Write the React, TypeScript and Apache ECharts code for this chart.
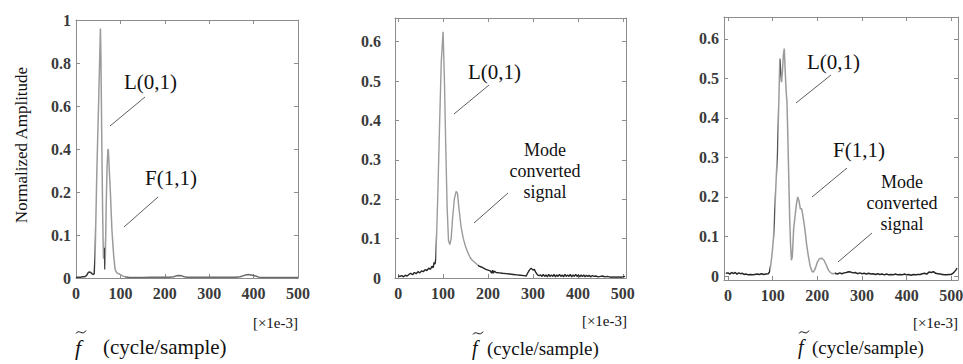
import React, { useEffect, useRef } from "react";
import * as echarts from "echarts";

// ---------- data ----------
const xTicks = [0, 100, 200, 300, 400, 500];
const p1YTickValues = [0, 0.1, 0.2, 0.4, 0.6, 0.8, 1];
const p1YTickLabels = ["0", "0.1", "0.2", "0.4", "0.6", "0.8", "1"];
const p23YTicks = [0, 0.1, 0.2, 0.3, 0.4, 0.5, 0.6];

// [frequency (x1e-3 cycle/sample), normalized amplitude]
const p1Spectrum: [number, number][] = [
  [0, 0.002], [5, 0.002], [10, 0.002], [15, 0.003], [20, 0.003], [24, 0.006], [27, 0.012], [30, 0.014],
  [33, 0.013], [36, 0.01], [39, 0.008], [41, 0.01], [43, 0.05], [45, 0.15], [47, 0.3], [49, 0.46],
  [51, 0.62], [53, 0.79], [55, 0.96], [56, 0.85], [57, 0.66], [58, 0.45], [59, 0.28], [60, 0.15],
  [61, 0.09], [62, 0.045], [63, 0.07], [64, 0.065], [65, 0.02], [66, 0.05], [67, 0.1], [68, 0.17],
  [70, 0.32], [72, 0.4], [73, 0.39], [75, 0.3], [77, 0.22], [79, 0.16], [81, 0.11], [83, 0.08],
  [85, 0.05], [88, 0.02], [92, 0.012], [96, 0.01], [100, 0.008], [105, 0.005], [110, 0.003], [120, 0.001],
  [130, 0.001], [150, 0.001], [170, 0.002], [190, 0.002], [210, 0.002], [220, 0.003], [226, 0.005], [232, 0.006],
  [238, 0.005], [244, 0.003], [250, 0.002], [270, 0.002], [300, 0.002], [330, 0.002], [360, 0.002], [370, 0.003],
  [376, 0.005], [382, 0.007], [388, 0.008], [394, 0.007], [400, 0.006], [406, 0.004], [412, 0.002], [420, 0.001],
  [450, 0.001], [480, 0.001], [500, 0.001],
];

const p2Spectrum: [number, number][] = [
  [0, 0.005], [4, 0.004], [8, 0.006], [12, 0.003], [16, 0.007], [20, 0.005], [24, 0.009], [28, 0.012],
  [32, 0.008], [36, 0.014], [40, 0.011], [44, 0.016], [48, 0.013], [52, 0.018], [56, 0.016], [60, 0.021],
  [64, 0.019], [68, 0.025], [72, 0.022], [75, 0.03], [78, 0.026], [80, 0.04], [82, 0.035], [84, 0.05],
  [88, 0.2], [92, 0.38], [96, 0.55], [100, 0.625], [103, 0.5], [106, 0.33], [109, 0.18], [112, 0.095],
  [115, 0.085], [118, 0.1], [121, 0.15], [125, 0.2], [129, 0.22], [132, 0.215], [135, 0.18], [140, 0.13],
  [145, 0.1], [150, 0.08], [155, 0.065], [160, 0.052], [165, 0.045], [170, 0.04], [175, 0.035], [180, 0.03],
  [185, 0.028], [190, 0.025], [195, 0.022], [200, 0.02], [205, 0.018], [208, 0.012], [210, 0.02], [212, 0.012],
  [214, 0.018], [218, 0.014], [225, 0.013], [232, 0.012], [240, 0.011], [248, 0.01], [256, 0.009], [264, 0.008],
  [272, 0.007], [280, 0.006], [285, 0.005], [288, 0.012], [292, 0.02], [296, 0.025], [300, 0.02], [303, 0.022],
  [306, 0.015], [310, 0.008], [314, 0.006], [317, 0.008], [320, 0.004], [323, 0.009], [326, 0.004], [329, 0.008],
  [332, 0.003], [335, 0.009], [338, 0.004], [341, 0.008], [344, 0.004], [347, 0.009], [350, 0.003], [353, 0.008],
  [356, 0.004], [359, 0.009], [362, 0.004], [365, 0.008], [368, 0.003], [371, 0.009], [374, 0.004], [377, 0.008],
  [380, 0.004], [383, 0.009], [386, 0.003], [389, 0.008], [392, 0.004], [395, 0.009], [398, 0.004], [401, 0.008],
  [404, 0.003], [407, 0.008], [410, 0.004], [413, 0.008], [416, 0.003], [419, 0.007], [422, 0.004], [425, 0.007],
  [428, 0.003], [432, 0.006], [436, 0.004], [440, 0.005], [445, 0.003], [450, 0.004], [455, 0.005], [460, 0.003],
  [465, 0.004], [470, 0.003], [475, 0.002], [480, 0.003], [485, 0.002], [490, 0.003], [495, 0.002], [500, 0.003],
  [505, 0.004],
];

const p3Spectrum: [number, number][] = [
  [-5, 0.007], [0, 0.008], [4, 0.005], [8, 0.009], [12, 0.006], [16, 0.009], [20, 0.005], [24, 0.008],
  [28, 0.006], [32, 0.007], [36, 0.004], [40, 0.005], [45, 0.003], [50, 0.004], [55, 0.003], [60, 0.004],
  [65, 0.005], [70, 0.004], [75, 0.006], [80, 0.004], [85, 0.005], [90, 0.006], [93, 0.01], [96, 0.03],
  [99, 0.06], [102, 0.1], [105, 0.17], [108, 0.25], [111, 0.32], [114, 0.45], [116, 0.55], [118, 0.52],
  [120, 0.49], [122, 0.52], [124, 0.56], [126, 0.575], [128, 0.52], [130, 0.47], [132, 0.44], [134, 0.35],
  [136, 0.25], [138, 0.15], [140, 0.08], [142, 0.04], [144, 0.05], [147, 0.12], [150, 0.15], [153, 0.18],
  [156, 0.2], [159, 0.19], [162, 0.17], [165, 0.17], [168, 0.15], [172, 0.12], [176, 0.08], [180, 0.05],
  [184, 0.025], [188, 0.012], [191, 0.01], [195, 0.018], [200, 0.035], [205, 0.044], [210, 0.045], [215, 0.04],
  [220, 0.028], [225, 0.015], [230, 0.008], [235, 0.006], [240, 0.007], [245, 0.005], [250, 0.008], [255, 0.006],
  [260, 0.008], [265, 0.009], [270, 0.011], [275, 0.01], [280, 0.008], [285, 0.009], [290, 0.006], [295, 0.008],
  [300, 0.006], [305, 0.007], [310, 0.005], [315, 0.007], [320, 0.005], [325, 0.006], [330, 0.004], [335, 0.006],
  [340, 0.004], [345, 0.005], [350, 0.003], [355, 0.005], [360, 0.003], [365, 0.004], [370, 0.003], [375, 0.005],
  [380, 0.003], [385, 0.004], [390, 0.003], [395, 0.005], [400, 0.003], [405, 0.004], [410, 0.002], [415, 0.004],
  [420, 0.003], [425, 0.004], [430, 0.004], [435, 0.006], [440, 0.007], [445, 0.005], [450, 0.01], [455, 0.009],
  [460, 0.011], [465, 0.007], [470, 0.006], [475, 0.005], [480, 0.004], [485, 0.003], [490, 0.003], [495, 0.004],
  [500, 0.004], [505, 0.008], [510, 0.015], [513, 0.02],
];

// ---------- helpers ----------
const SERIF = "'Liberation Serif', 'Times New Roman', serif";
const FRAME = "#8c8c8c";

// panel 1 uses an axis whose tick labels are equally spaced but not linear in value
function toP1Axis(a: number): number {
  const t = p1YTickValues;
  for (let i = 1; i < t.length; i++) {
    if (a <= t[i]) return i - 1 + (a - t[i - 1]) / (t[i] - t[i - 1]);
  }
  return t.length - 1;
}

const tickLabelStyle = {
  fontFamily: SERIF,
  fontSize: 16,
  fontWeight: "bold" as const,
  color: "#3a3a3a",
};

function xAxesFor(grid: number, min: number, max: number) {
  const common = {
    type: "value" as const,
    gridIndex: grid,
    min,
    max,
    splitLine: { show: false },
    axisLine: { show: true, onZero: false, lineStyle: { color: FRAME, width: 1 } },
    axisTick: { show: true, inside: true, length: 4, customValues: xTicks, lineStyle: { color: FRAME } },
  };
  return [
    { ...common, position: "bottom" as const, axisLabel: { ...tickLabelStyle, margin: 7, customValues: xTicks } },
    { ...common, position: "top" as const, axisLabel: { show: false } },
  ];
}

function yAxesFor(grid: number, min: number, max: number, ticks: number[], margin: number, formatter?: (v: number) => string) {
  const common = {
    type: "value" as const,
    gridIndex: grid,
    min,
    max,
    splitLine: { show: false },
    axisLine: { show: true, onZero: false, lineStyle: { color: FRAME, width: 1 } },
    axisTick: { show: true, inside: true, length: 4, customValues: ticks, lineStyle: { color: FRAME } },
  };
  return [
    {
      ...common,
      position: "left" as const,
      axisLabel: { ...tickLabelStyle, margin, customValues: ticks, formatter: formatter ?? ((v: number) => String(v)) },
    },
    { ...common, position: "right" as const, axisLabel: { show: false } },
  ];
}

function txt(text: string, x: number, y: number, fontSize: number, align = "left", extra: any = {}) {
  return {
    type: "text",
    x,
    y,
    silent: true,
    style: {
      text,
      x: 0,
      y: 0,
      fill: "#111",
      fontFamily: SERIF,
      fontSize,
      align,
      verticalAlign: "middle",
      ...extra,
    },
  };
}

function pointer(x1: number, y1: number, x2: number, y2: number) {
  return { type: "line", silent: true, shape: { x1, y1, x2, y2 }, style: { stroke: "#333", lineWidth: 0.8 } };
}

// italic f with a tilde drawn above it, followed by the unit text
function axisTitle(fX: number, textX: number, y: number, size: number) {
  const ty = y - 15;
  return [
    txt("f", fX, y, size + 1, "left", { fontStyle: "italic" }),
    {
      type: "bezierCurve",
      silent: true,
      shape: {
        x1: fX + 1, y1: ty + 1.5,
        cpx1: fX + 4, cpy1: ty - 3.5,
        cpx2: fX + 7.5, cpy2: ty + 4.5,
        x2: fX + 11, y2: ty - 1.5,
      },
      style: { stroke: "#111", lineWidth: 1, fill: null },
    },
    txt("(cycle/sample)", textX, y, size, "left"),
  ];
}

export default function App() {
  const ref = useRef<HTMLDivElement>(null);

  useEffect(() => {
    if (!ref.current) return;
    const chart = echarts.init(ref.current, null, { renderer: "svg" });

    const gray = "#9b9b9b";
    const dark = "#262626";

    const yTitle: any = txt("Normalized Amplitude", 21, 145, 17, "center", {});
    yTitle.rotation = Math.PI / 2;

    const option: any = {
      animation: false,
      backgroundColor: "#fff",
      grid: [
        { left: 76, top: 20, width: 222, height: 258, outerBoundsMode: "none" },
        { left: 395, top: 18, width: 231, height: 260, outerBoundsMode: "none" },
        { left: 724, top: 17, width: 234, height: 263, outerBoundsMode: "none" },
      ],
      xAxis: [...xAxesFor(0, 0, 500), ...xAxesFor(1, -7, 507), ...xAxesFor(2, -9, 515)],
      yAxis: [
        ...yAxesFor(0, 0, 6, [0, 1, 2, 3, 4, 5, 6], 5, (v: number) => p1YTickLabels[Math.round(v)] ?? ""),
        ...yAxesFor(1, 0, 0.66, p23YTicks, 14),
        ...yAxesFor(2, -0.01, 0.655, p23YTicks, 5),
      ],
      visualMap: [
        {
          show: false,
          type: "piecewise",
          seriesIndex: 0,
          dimension: 0,
          pieces: [
            { lt: 42, color: "#3a3a3a" },
            { gte: 42, lt: 62.5, color: gray },
            { gte: 62.5, lt: 65.5, color: "#444" },
            { gte: 65.5, lt: 110, color: gray },
            { gte: 110, color: "#6a6a6a" },
          ],
        },
        {
          show: false,
          type: "piecewise",
          seriesIndex: 1,
          dimension: 0,
          pieces: [
            { lt: 84, color: dark },
            { gte: 84, lt: 178, color: gray },
            { gte: 178, color: dark },
          ],
        },
        {
          show: false,
          type: "piecewise",
          seriesIndex: 2,
          dimension: 0,
          pieces: [
            { lt: 94, color: dark },
            { gte: 94, lt: 97.5, color: gray },
            { gte: 97.5, lt: 99.5, color: "#555" },
            { gte: 99.5, lt: 104, color: gray },
            { gte: 104, lt: 105.5, color: "#555" },
            { gte: 105.5, lt: 109.5, color: gray },
            { gte: 109.5, lt: 111.5, color: "#555" },
            { gte: 111.5, lt: 116.5, color: gray },
            { gte: 116.5, lt: 118.5, color: "#555" },
            { gte: 118.5, lt: 240, color: gray },
            { gte: 240, color: dark },
          ],
        },
      ],
      series: [
        {
          type: "line",
          xAxisIndex: 0,
          yAxisIndex: 0,
          showSymbol: false,
          lineStyle: { width: 1.5 },
          data: p1Spectrum.map(([f, a]) => [f, toP1Axis(a)]),
        },
        {
          type: "line",
          xAxisIndex: 2,
          yAxisIndex: 2,
          showSymbol: false,
          lineStyle: { width: 1.4 },
          data: p2Spectrum,
        },
        {
          type: "line",
          xAxisIndex: 4,
          yAxisIndex: 4,
          showSymbol: false,
          lineStyle: { width: 1.5 },
          data: p3Spectrum,
        },
      ],
      graphic: [
        yTitle,
        // panel 1 annotations
        txt("L(0,1)", 124, 82, 21),
        pointer(145, 97, 110, 126),
        txt("F(1,1)", 145, 178, 21),
        pointer(158, 197, 124, 227),
        // panel 2 annotations
        txt("L(0,1)", 468, 72, 21),
        pointer(489, 85, 454, 114),
        txt("Mode\nconverted\nsignal", 545, 171, 18, "center", { lineHeight: 21 }),
        pointer(508, 193, 474, 223),
        // panel 3 annotations
        txt("L(0,1)", 807, 62, 21),
        pointer(831, 75, 796, 103),
        txt("F(1,1)", 833, 150, 21),
        pointer(847, 168, 812, 197),
        txt("Mode\nconverted\nsignal", 902, 203, 18, "center", { lineHeight: 21 }),
        pointer(872, 233, 838, 262),
        // unit labels
        txt("[\u00d71e-3]", 298, 323, 15, "right"),
        txt("[\u00d71e-3]", 627, 321, 15, "right"),
        txt("[\u00d71e-3]", 958, 323, 15, "right"),
        // x-axis titles
        ...axisTitle(75, 103, 347, 21),
        ...axisTitle(472, 487, 348, 19),
        ...axisTitle(798, 812, 347, 19),
      ],
    };

    chart.setOption(option);
    return () => chart.dispose();
  }, []);

  return (
    <div
      ref={ref}
      style={{ position: "fixed", left: 0, top: 0, width: 963, height: 364, background: "#fff" }}
    />
  );
}
